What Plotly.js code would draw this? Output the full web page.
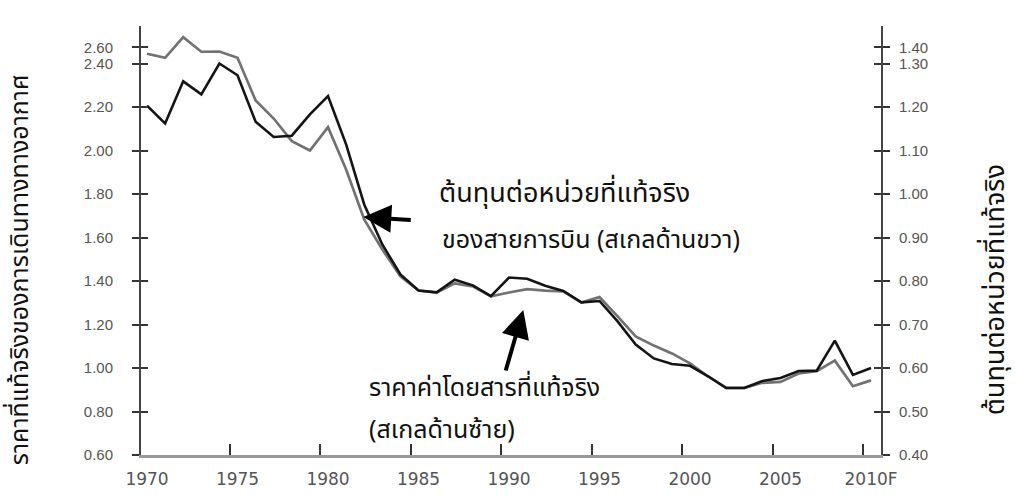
<!DOCTYPE html>
<html><head><meta charset="utf-8">
<script src="https://cdn.plot.ly/plotly-3.0.1.min.js"></script>
<style>html,body{margin:0;padding:0;background:#fff}#chart{width:1015px;height:495px}</style>
</head><body><div id="chart"></div>
<script>
const years = [1970,1971,1972,1973,1974,1975,1976,1977,1978,1979,1980,1981,1982,1983,1984,1985,1986,1987,1988,1989,1990,1991,1992,1993,1994,1995,1996,1997,1998,1999,2000,2001,2002,2003,2004,2005,2006,2007,2008,2009,2010];
// real air fare (left scale)
const fareLeft = [2.445,2.426,2.521,2.454,2.455,2.426,2.230,2.147,2.043,2.000,2.107,1.913,1.683,1.545,1.421,1.356,1.347,1.389,1.375,1.329,1.347,1.363,1.356,1.352,1.301,1.326,1.237,1.145,1.103,1.067,1.021,0.961,0.909,0.909,0.932,0.936,0.975,0.985,1.034,0.916,0.943];
// real airline unit cost (right scale)
const costRight = [1.203,1.162,1.259,1.229,1.300,1.273,1.166,1.131,1.134,1.183,1.225,1.114,0.976,0.884,0.815,0.778,0.774,0.803,0.790,0.765,0.808,0.805,0.789,0.777,0.751,0.754,0.707,0.654,0.622,0.609,0.605,0.581,0.554,0.554,0.570,0.577,0.593,0.594,0.663,0.584,0.600];

const xTickYears = [1970,1975,1980,1985,1990,1995,2000,2005,2010];
const xTickLabels = ['1970','1975','1980','1985','1990','1995','2000','2005','2010F'];
const leftTickVals = [0.6,0.8,1.0,1.2,1.4,1.6,1.8,2.0,2.2,2.4,2.4736];
const leftTickText = ['0.60','0.80','1.00','1.20','1.40','1.60','1.80','2.00','2.20','2.40','2.60'];
const rightTickVals = [0.4,0.5,0.6,0.7,0.8,0.9,1.0,1.1,1.2,1.3,1.3368];
const rightTickText = ['0.40','0.50','0.60','0.70','0.80','0.90','1.00','1.10','1.20','1.30','1.40'];

const leftTitle = 'ราคาที่แท้จริงของการเดินทางทางอากาศ';
const rightTitle = 'ต้นทุนต่อหน่วยที่แท้จริง';
const costLabel = ['ต้นทุนต่อหน่วยที่แท้จริง','ของสายการบิน (สเกลด้านขวา)'];
const fareLabel = ['ราคาค่าโดยสารที่แท้จริง','(สเกลด้านซ้าย)'];

const xRange = [1969.668, 2010.552];
const leftRange = [0.6, 2.5724];
const rightRange = [0.4, 1.3862];
const tickShift = 0.44;
const thaiFamily = 'Noto Sans Thai, Tahoma, Noto Sans, sans-serif';
const thaiFont = {family: thaiFamily, size: 25, color: '#111'};
const thaiFontWide = {family: thaiFamily, size: 27, color: '#111'};
const tickFont = {family: 'Liberation Sans, Arial, sans-serif', size: 15, color: '#555'};
const xTickFont = {family: 'DejaVu Sans, Verdana, sans-serif', size: 17, color: '#555'};

const ghost = {type: 'scatter', mode: 'lines', opacity: 0, line: {width: 0}, hoverinfo: 'skip', showlegend: false};
const traces = [
  Object.assign({x: years, y: fareLeft, xaxis: 'x2', yaxis: 'y3'}, ghost),
  Object.assign({x: years, y: costRight, xaxis: 'x', yaxis: 'y4'}, ghost),
  {x: years, y: fareLeft, type: 'scatter', mode: 'lines', name: 'fare', xaxis: 'x', yaxis: 'y',
   line: {color: '#727272', width: 2.7}, hoverinfo: 'x+y'},
  {x: years, y: costRight, type: 'scatter', mode: 'lines', name: 'cost', xaxis: 'x', yaxis: 'y2',
   line: {color: '#141414', width: 2.6}, hoverinfo: 'x+y'}
];

const yCommon = {showgrid: false, zeroline: false, ticklen: 7, tickwidth: 2, tickcolor: '#333'};
const layout = {
  width: 1015, height: 495,
  margin: {l: 141, r: 134, t: 26, b: 40},
  paper_bgcolor: '#fff', plot_bgcolor: '#fff',
  showlegend: false,
  xaxis: {range: xRange, tickmode: 'array', tickvals: xTickYears.map(v => v - tickShift),
    showticklabels: false, ticks: 'inside', ticklen: 11, tickwidth: 2, tickcolor: '#333',
    showline: true, linecolor: '#999', linewidth: 3, showgrid: false, zeroline: false},
  xaxis2: {overlaying: 'x', anchor: 'y', side: 'bottom', range: xRange, tickmode: 'array',
    tickvals: xTickYears, ticktext: xTickLabels, ticks: '', showline: false, showgrid: false,
    zeroline: false, tickfont: xTickFont, ticklabelstandoff: 12},
  yaxis: Object.assign({range: leftRange, tickmode: 'array', tickvals: leftTickVals, ticktext: leftTickText,
    ticks: 'outside', showline: true, linecolor: '#444', linewidth: 2, tickfont: tickFont,
    ticklabelstandoff: 16}, yCommon),
  yaxis2: Object.assign({range: rightRange, overlaying: 'y', side: 'right', anchor: 'x', tickmode: 'array',
    tickvals: rightTickVals, ticktext: rightTickText, ticks: 'outside', showline: true,
    linecolor: '#444', linewidth: 2, tickfont: tickFont, ticklabelstandoff: 6}, yCommon),
  yaxis3: Object.assign({range: leftRange, overlaying: 'y', side: 'left', anchor: 'x', tickmode: 'array',
    tickvals: leftTickVals, ticks: 'inside', showticklabels: false, showline: false}, yCommon),
  yaxis4: Object.assign({range: rightRange, overlaying: 'y', side: 'right', anchor: 'x', tickmode: 'array',
    tickvals: rightTickVals, ticks: 'inside', showticklabels: false, showline: false}, yCommon),
  annotations: [
    {xref: 'paper', yref: 'paper', x: -0.1631, y: 0.4312, text: leftTitle, textangle: -90, showarrow: false,
     font: thaiFont, xanchor: 'center', yanchor: 'middle'},
    {xref: 'paper', yref: 'paper', x: 1.1545, y: 0.3846, text: rightTitle, textangle: -90, showarrow: false,
     font: thaiFontWide, xanchor: 'center', yanchor: 'middle'},
    {xref: 'paper', yref: 'paper', x: 0.4004, y: 0.6107, text: costLabel[0], showarrow: false,
     font: thaiFontWide, xanchor: 'left', yanchor: 'middle'},
    {xref: 'paper', yref: 'paper', x: 0.4045, y: 0.5012, text: costLabel[1], showarrow: false,
     font: thaiFont, xanchor: 'left', yanchor: 'middle'},
    {xref: 'paper', yref: 'paper', x: 0.3058, y: 0.1562, text: fareLabel[0], showarrow: false,
     font: thaiFont, xanchor: 'left', yanchor: 'middle'},
    {xref: 'paper', yref: 'paper', x: 0.3058, y: 0.0583, text: fareLabel[1], showarrow: false,
     font: thaiFont, xanchor: 'left', yanchor: 'middle'},
    {xref: 'paper', yref: 'paper', x: 0.3004, y: 0.5548, text: '', showarrow: true, ax: 49, ay: 3,
     arrowhead: 2, arrowsize: 1.4, arrowwidth: 4, arrowcolor: '#000', standoff: 0},
    {xref: 'paper', yref: 'paper', x: 0.5166, y: 0.338, text: '', showarrow: true, ax: -18, ay: 62,
     arrowhead: 2, arrowsize: 1.4, arrowwidth: 4, arrowcolor: '#000', standoff: 0}
  ]
};

Plotly.newPlot('chart', traces, layout, {displayModeBar: false, staticPlot: true});
</script></body></html>
